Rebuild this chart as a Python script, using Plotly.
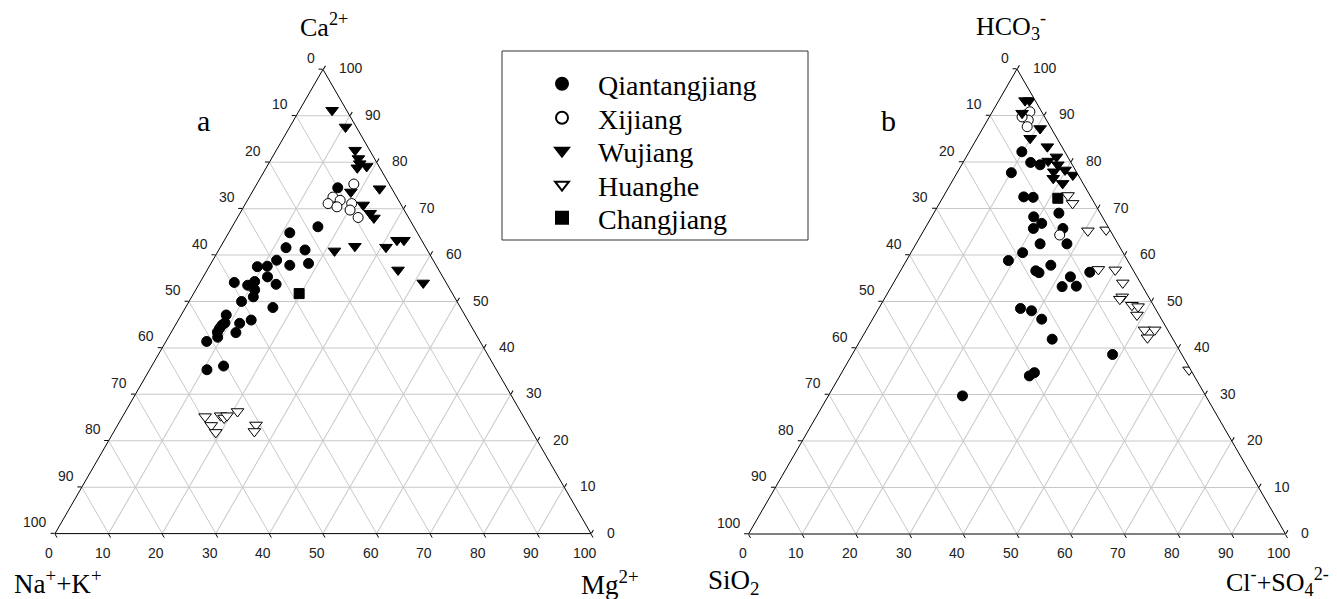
import math
import plotly.graph_objects as go

# ---------------- data: diagram a (Ca2+, Mg2+, Na+ + K+) in % ----------------
qt_a_ca = [74.5, 66.1, 64.8, 61.6, 61.1, 58.9, 57.6, 57.5, 57.8, 58.2, 55.3, 53.7, 54.1, 53.5, 54.3, 52.5,
           51.0, 50.0, 48.7, 47.1, 44.9, 44.2, 43.4, 45.3, 46.0, 43.3, 42.3, 41.4, 45.4, 35.3, 36.1]
qt_a_mg = [15.5, 16.0, 11.4, 12.3, 16.1, 11.9, 10.8, 9.0, 14.9, 18.2, 12.0, 14.4, 6.4, 9.2, 10.1, 11.0,
           11.5, 9.8, 16.3, 8.4, 8.7, 8.6, 8.6, 11.8, 13.6, 12.1, 9.2, 7.6, 9.0, 10.7, 13.4]
qt_a_nak = [10.0, 17.9, 23.8, 26.1, 22.8, 29.2, 31.6, 33.5, 27.3, 23.6, 32.7, 31.9, 39.5, 37.3, 35.6, 36.5,
            37.5, 40.2, 35.0, 44.5, 46.4, 47.2, 48.0, 42.9, 40.4, 44.6, 48.5, 51.0, 45.6, 54.0, 50.5]

xj_a_ca = [75.3, 72.5, 71.1, 71.8, 71.1, 69.7, 70.4, 68.1]
xj_a_mg = [18.1, 15.6, 15.4, 17.3, 19.8, 20.2, 17.4, 22.5]
xj_a_nak = [6.6, 11.9, 13.5, 10.9, 9.1, 10.1, 12.2, 9.4]

wj_a_ca = [91.2, 87.6, 82.6, 80.8, 79.7, 79.1, 78.8, 74.3, 73.6, 70.8, 69.0, 60.9, 61.9, 63.2, 63.2, 61.7,
           56.8, 54.0, 68.0]
wj_a_mg = [6.1, 10.4, 14.7, 16.2, 17.0, 18.6, 17.0, 23.4, 18.4, 22.1, 24.3, 21.7, 25.0, 32.2, 33.5, 30.9,
           35.6, 41.7, 25.5]
wj_a_nak = [2.7, 2.0, 2.7, 3.0, 3.3, 2.3, 4.2, 2.3, 8.0, 7.1, 6.7, 17.4, 13.1, 4.6, 3.3, 7.4,
            7.6, 4.3, 6.5]

hh_a_ca = [25.2, 23.3, 21.8, 25.4, 24.9, 25.4, 26.3, 23.4, 22.0]
hh_a_mg = [15.4, 17.5, 19.1, 18.2, 19.1, 19.4, 20.9, 25.8, 26.2]
hh_a_nak = [59.4, 59.2, 59.1, 56.4, 56.0, 55.2, 52.8, 50.8, 51.8]

cj_a_ca = [51.7]
cj_a_mg = [19.7]
cj_a_nak = [28.6]

# ---------------- data: diagram b (HCO3-, Cl- + SO4 2-, SiO2) in % ----------------
qt_b_hco3 = [82.2, 79.9, 79.4, 77.7, 72.5, 72.4, 69.0, 68.2, 66.8, 65.7, 65.7, 62.4, 62.4, 60.5, 58.8,
             57.8, 56.6, 56.2, 55.3, 56.3, 53.2, 53.3, 48.5, 48.0, 46.2, 41.9, 38.6, 34.7, 34.0, 29.7]
qt_b_clso4 = [9.8, 12.6, 14.6, 10.1, 15.0, 16.8, 23.3, 19.0, 21.2, 20.2, 25.7, 23.1, 28.1, 20.8, 19.0,
              27.4, 25.2, 26.0, 32.3, 35.4, 31.8, 34.4, 26.4, 28.7, 31.5, 35.6, 48.5, 35.9, 35.3, 25.0]
qt_b_sio2 = [8.0, 7.5, 6.0, 12.2, 12.5, 10.8, 7.7, 12.8, 12.0, 14.1, 8.6, 14.5, 9.5, 18.7, 22.2,
             14.8, 18.2, 17.8, 12.4, 8.3, 15.0, 12.3, 25.1, 23.3, 22.3, 22.5, 12.9, 29.4, 30.7, 45.3]

xj_b_hco3 = [90.1, 90.8, 89.0, 87.6, 89.7, 64.3]
xj_b_clso4 = [6.5, 7.0, 7.6, 8.1, 6.1, 25.8]
xj_b_sio2 = [3.4, 2.2, 3.4, 4.3, 4.2, 9.9]

wj_b_hco3 = [93.2, 93.2, 90.5, 87.2, 85.1, 83.3, 81.1, 80.2, 79.4, 77.9, 78.3, 77.2, 76.5, 75.4]
wj_b_clso4 = [4.9, 5.7, 5.7, 10.7, 9.9, 14.0, 16.8, 15.7, 17.9, 17.9, 19.8, 21.8, 18.5, 20.8]
wj_b_sio2 = [1.9, 1.1, 3.8, 2.1, 5.0, 2.7, 2.1, 4.1, 2.7, 4.2, 1.9, 1.0, 5.0, 3.8]

hh_b_hco3 = [72.8, 71.1, 65.2, 65.4, 56.9, 56.8, 54.0, 51.0, 50.5, 49.2, 48.9, 47.1, 43.9, 43.9, 42.2, 35.3]
hh_b_clso4 = [23.1, 24.8, 30.6, 33.9, 36.7, 39.9, 42.7, 44.1, 43.9, 46.8, 48.1, 48.8, 51.8, 53.7, 53.2, 64.4]
hh_b_sio2 = [4.1, 4.1, 4.2, 0.7, 6.4, 3.3, 3.3, 4.9, 5.6, 4.0, 3.0, 4.1, 4.3, 2.4, 4.6, 0.3]

cj_b_hco3 = [72.2]
cj_b_clso4 = [21.5]
cj_b_sio2 = [6.3]

series_names = ["Qiantangjiang", "Xijiang", "Wujiang", "Huanghe", "Changjiang"]
tick_values = [0, 10, 20, 30, 40, 50, 60, 70, 80, 90, 100]

# ---------------- layout helpers ----------------
W, H = 1337, 599
OFF = 8  # page body margin in the browser
SERIF = "Liberation Serif, Times New Roman, serif"
SANS = "Liberation Sans, Arial, sans-serif"


def px(X):
    return (X - OFF) / W


def py(Y):
    return 1 - (Y - OFF) / H


def fit_triangle(X0, X1, YT, YB):
    w = min(X1 - X0, (YB - YT) * 2 / math.sqrt(3))
    h = w * math.sqrt(3) / 2
    cx, cy = (X0 + X1) / 2, (YT + YB) / 2
    geom = dict(T=(cx, cy - h / 2), BL=(cx - w / 2, cy + h / 2), BR=(cx + w / 2, cy + h / 2))
    dom = dict(x=[px(X0), px(X1)], y=[py(YB), py(YT)])
    return dom, geom


dom_a, geo_a = fit_triangle(55, 591, 69, 534)
dom_b, geo_b = fit_triangle(747, 1287, 69, 534)

styles = {
    "Qiantangjiang": dict(symbol="circle", size=10, color="black", line=dict(color="black", width=1)),
    "Xijiang": dict(symbol="circle", size=10, color="white", line=dict(color="black", width=1)),
    "Wujiang": dict(symbol="triangle-down", size=11, color="black", line=dict(color="black", width=1)),
    "Huanghe": dict(symbol="triangle-down", size=11, color="white", line=dict(color="black", width=1)),
    "Changjiang": dict(symbol="square", size=10, color="black", line=dict(color="black", width=1)),
}

data_a = {
    "Qiantangjiang": (qt_a_ca, qt_a_nak, qt_a_mg),
    "Xijiang": (xj_a_ca, xj_a_nak, xj_a_mg),
    "Wujiang": (wj_a_ca, wj_a_nak, wj_a_mg),
    "Huanghe": (hh_a_ca, hh_a_nak, hh_a_mg),
    "Changjiang": (cj_a_ca, cj_a_nak, cj_a_mg),
}
data_b = {
    "Qiantangjiang": (qt_b_hco3, qt_b_sio2, qt_b_clso4),
    "Xijiang": (xj_b_hco3, xj_b_sio2, xj_b_clso4),
    "Wujiang": (wj_b_hco3, wj_b_sio2, wj_b_clso4),
    "Huanghe": (hh_b_hco3, hh_b_sio2, hh_b_clso4),
    "Changjiang": (cj_b_hco3, cj_b_sio2, cj_b_clso4),
}

legend_ids = ["legend", "legend2", "legend3", "legend4", "legend5"]
legend_rows_y = [84, 118, 151, 185, 218]  # screen px row centres

fig = go.Figure()
for i, name in enumerate(series_names):
    a, b, c = data_a[name]
    fig.add_trace(go.Scatterternary(a=a, b=b, c=c, mode="markers", name=name, marker=styles[name],
                                    subplot="ternary", showlegend=True, legend=legend_ids[i]))
for name in series_names:
    a, b, c = data_b[name]
    fig.add_trace(go.Scatterternary(a=a, b=b, c=c, mode="markers", name=name, marker=styles[name],
                                    subplot="ternary2", showlegend=False))


def tern_axis():
    return dict(
        title=dict(text=""),
        tickmode="array", tickvals=tick_values, showticklabels=False,
        ticks="outside", ticklen=4, tickcolor="black", tickwidth=1,
        showline=True, linecolor="black", linewidth=1,
        showgrid=True, gridcolor="#c8c8c8", gridwidth=1,
        min=0,
    )


layout = dict(
    width=W, height=H,
    margin=dict(l=0, r=0, t=0, b=0),
    paper_bgcolor="white",
    ternary=dict(domain=dom_a, sum=100, bgcolor="white",
                 aaxis=tern_axis(), baxis=tern_axis(), caxis=tern_axis()),
    ternary2=dict(domain=dom_b, sum=100, bgcolor="white",
                  aaxis=tern_axis(), baxis=tern_axis(), caxis=tern_axis()),
    showlegend=True,
)
for lid, ry in zip(legend_ids, legend_rows_y):
    layout[lid] = dict(x=px(526), y=py(ry), xanchor="left", yanchor="middle",
                       font=dict(family=SERIF, size=28, color="black"),
                       bgcolor="rgba(0,0,0,0)", borderwidth=0, itemwidth=62,
                       itemsizing="constant")
fig.update_layout(**layout)

# legend frame
fig.add_shape(type="rect", xref="paper", yref="paper",
              x0=px(502), x1=px(808), y0=py(240), y1=py(51),
              line=dict(color="#333333", width=1), fillcolor="rgba(0,0,0,0)")


def text_at(text, X, Y, xanchor="center", size=14, family=SANS, color="#222222"):
    fig.add_annotation(text=text, x=px(X), y=py(Y), xref="paper", yref="paper",
                       xanchor=xanchor, yanchor="middle", showarrow=False,
                       font=dict(family=family, size=size, color=color))


# tick labels placed along the three edges of each triangle
for geo in (geo_a, geo_b):
    (tx, ty), (lx, ly), (rx, ry) = geo["T"], geo["BL"], geo["BR"]
    for v in tick_values:
        f = v / 100
        # left edge: 0 at top, 100 at bottom-left
        X, Y = tx + (lx - tx) * f, ty + (ly - ty) * f
        text_at(str(v), X - 6, Y - 11.5, "right")
        # right edge: 100 at top, 0 at bottom-right
        X, Y = rx + (tx - rx) * f, ry + (ty - ry) * f
        text_at(str(v), X + 13.5, Y - 1, "left")
        # bottom edge: 0 at left, 100 at right
        X, Y = lx + (rx - lx) * f, ly
        text_at(str(v), X - 6, Y + 19, "center")

# titles
text_at("Ca<sup>2+</sup>", 324, 25, "center", 26, SERIF, "black")
text_at("Na<sup>+</sup>+K<sup>+</sup>", 12, 582, "left", 27, SERIF, "black")
text_at("Mg<sup>2+</sup>", 579, 583, "left", 27, SERIF, "black")
text_at("a", 203, 120, "center", 30, SERIF, "black")
text_at("HCO<sub>3</sub><sup>-</sup>", 1011, 26, "center", 26, SERIF, "black")
text_at("SiO<sub>2</sub>", 706, 582, "left", 27, SERIF, "black")
text_at("Cl<sup>-</sup>+SO<sub>4</sub><sup>2-</sup>", 1224, 582, "left", 26, SERIF, "black")
text_at("b", 888, 120, "center", 30, SERIF, "black")

fig.write_html("out.html")
